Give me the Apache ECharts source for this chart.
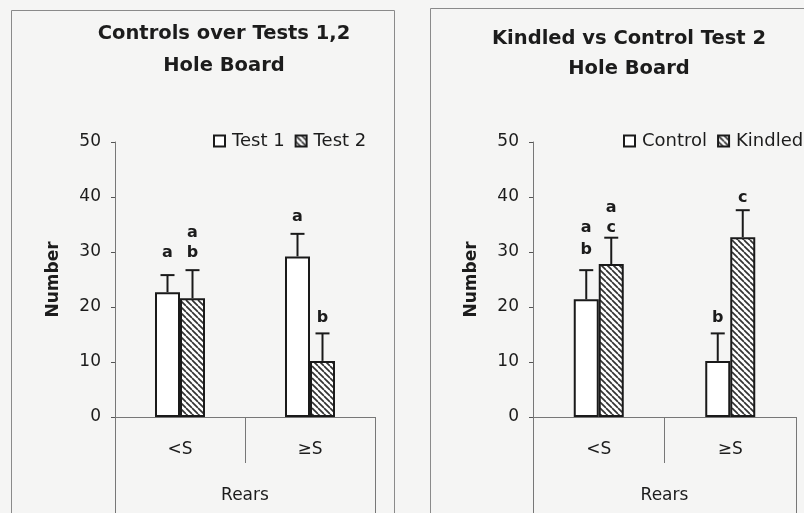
<!DOCTYPE html>
<html>
<head>
<meta charset="utf-8">
<script src="https://cdn.jsdelivr.net/npm/echarts@6/dist/echarts.min.js"></script>
<style>
  html, body { margin: 0; padding: 0; background: #f5f5f4; }
  #chart { width: 804px; height: 513px; }
</style>
</head>
<body>
<div id="chart"></div>
<script>
// ---- shared axes ----
const categories = ['<S', '≥S'];
const groupName = ['Rears'];
const yMin = 0, yMax = 50, yStep = 10;

// ---- left panel: controls, test 1 vs test 2 ----
const leftTitle = 'Controls over Tests 1,2\nHole Board';
const test1Mean = [22.7, 29.2];
const test1Err = [3.1, 4.1];
const test2Mean = [21.6, 10.2];
const test2Err = [5.1, 5.0];
const test1Letters = [['a'], ['a']];
const test1LetterY = [[29.8], [36.4]];
const test2Letters = [['b', 'a'], ['b']];
const test2LetterY = [[29.8, 33.5], [18.0]];

// ---- right panel: kindled vs control, test 2 ----
const rightTitle = 'Kindled vs Control Test 2\nHole Board';
const controlMean = [21.4, 10.2];
const controlErr = [5.3, 5.0];
const kindledMean = [27.8, 32.7];
const kindledErr = [4.8, 4.9];
const controlLetters = [['b', 'a'], ['b']];
const controlLetterY = [[30.4, 34.4], [18.0]];
const kindledLetters = [['c', 'a'], ['c']];
const kindledLetterY = [[34.4, 38.0], [39.8]];

const FONT = 'DejaVu Sans';
const INK = '#1c1c1c';
const AXIS = '#777';
const BAR_W = 25;

function hatchPattern() {
  const s = 6;
  const c = document.createElement('canvas');
  c.width = s; c.height = s;
  const g = c.getContext('2d');
  g.fillStyle = '#ffffff';
  g.fillRect(0, 0, s, s);
  g.strokeStyle = '#333';
  g.lineWidth = 1.7;
  for (const d of [-s, 0, s]) {
    g.beginPath();
    g.moveTo(d, 0);
    g.lineTo(d + s, s);
    g.stroke();
  }
  return { image: c, repeat: 'repeat' };
}
const HATCH = hatchPattern();

function barSeries(name, values, xi, yi, hatched) {
  return {
    name: name,
    type: 'bar',
    xAxisIndex: xi,
    yAxisIndex: yi,
    barWidth: BAR_W,
    barGap: '0%',
    data: values,
    itemStyle: {
      color: hatched ? HATCH : '#ffffff',
      borderColor: '#1a1a1a',
      borderWidth: 2
    },
    emphasis: { disabled: true },
    z: 2
  };
}

function errorSeries(values, errs, xi, yi, offset) {
  return {
    type: 'custom',
    xAxisIndex: xi,
    yAxisIndex: yi,
    silent: true,
    z: 3,
    data: values.map((v, i) => [i, v, errs[i]]),
    renderItem: function (params, api) {
      const base = api.coord([api.value(0), api.value(1)]);
      const top = api.coord([api.value(0), api.value(1) + api.value(2)]);
      const cx = base[0] + offset;
      const st = { stroke: '#1a1a1a', lineWidth: 2 };
      return {
        type: 'group',
        children: [
          { type: 'line', shape: { x1: cx, y1: base[1], x2: cx, y2: top[1] }, style: st },
          { type: 'line', shape: { x1: cx - 7, y1: top[1], x2: cx + 7, y2: top[1] }, style: st }
        ]
      };
    }
  };
}

function letterSeries(letters, letterY, xi, yi, offset) {
  const pts = [];
  const txt = [];
  letters.forEach((list, i) => {
    list.forEach((t, k) => {
      pts.push([i, letterY[i][k]]);
      txt.push(t);
    });
  });
  return {
    type: 'custom',
    xAxisIndex: xi,
    yAxisIndex: yi,
    silent: true,
    z: 4,
    data: pts,
    renderItem: function (params, api) {
      const p = api.coord([api.value(0), api.value(1)]);
      return {
        type: 'text',
        style: {
          x: p[0] + offset,
          y: p[1],
          text: txt[params.dataIndex],
          fill: INK,
          font: 'bold 16px "' + FONT + '"',
          align: 'center',
          verticalAlign: 'middle'
        }
      };
    }
  };
}

function catAxis(gi) {
  return {
    type: 'category',
    gridIndex: gi,
    position: 'bottom',
    data: categories,
    axisLine: { show: true, lineStyle: { color: AXIS, width: 1 } },
    axisTick: { show: true, interval: 0, alignWithLabel: false, length: 46, lineStyle: { color: AXIS, width: 1 } },
    axisLabel: { margin: 24, color: INK, fontFamily: FONT, fontSize: 17 }
  };
}
function groupAxis(gi) {
  return {
    type: 'category',
    gridIndex: gi,
    position: 'bottom',
    offset: 0,
    data: groupName,
    axisLine: { show: false },
    axisTick: { show: true, interval: 0, alignWithLabel: false, length: 100, lineStyle: { color: AXIS, width: 1 } },
    axisLabel: { margin: 70, color: INK, fontFamily: FONT, fontSize: 17 }
  };
}
function valAxis(gi) {
  return {
    type: 'value',
    gridIndex: gi,
    min: yMin,
    max: yMax,
    interval: yStep,
    name: 'Number',
    nameLocation: 'middle',
    nameGap: 53,
    nameTextStyle: { color: INK, fontFamily: FONT, fontSize: 17, fontWeight: 'bold' },
    axisLine: { show: true, lineStyle: { color: AXIS, width: 1 } },
    axisTick: { show: true, length: 4, lineStyle: { color: '#555' } },
    splitLine: { show: false },
    axisLabel: { margin: 14, color: INK, fontFamily: FONT, fontSize: 17 }
  };
}

const legendText = { color: INK, fontFamily: FONT, fontSize: 18, padding: [0, 0, 0, 2] };

const chart = echarts.init(document.getElementById('chart'));
chart.setOption({
  backgroundColor: '#f5f5f4',
  animation: false,
  title: [
    {
      text: leftTitle, left: 219, top: 13, textAlign: 'center',
      textStyle: { color: INK, fontFamily: FONT, fontSize: 19.5, fontWeight: 'bold', lineHeight: 32 }
    },
    {
      text: rightTitle, left: 624, top: 19, textAlign: 'center',
      textStyle: { color: INK, fontFamily: FONT, fontSize: 19.5, fontWeight: 'bold', lineHeight: 30 }
    }
  ],
  legend: [
    {
      data: ['Test 1', 'Test 2'], left: 208, top: 127, orient: 'horizontal', width: 320,
      icon: 'rect', itemWidth: 11, itemHeight: 11, itemGap: 10,
      textStyle: legendText
    },
    {
      data: ['Control', 'Kindled'], left: 618, top: 127, orient: 'horizontal', width: 320,
      icon: 'rect', itemWidth: 11, itemHeight: 11, itemGap: 10,
      textStyle: legendText
    }
  ],
  graphic: [
    { type: 'rect', z: -1, silent: true, shape: { x: 11.5, y: 10.5, width: 383, height: 600 }, style: { fill: 'none', stroke: '#8a8a8a', lineWidth: 1 } },
    { type: 'rect', z: -1, silent: true, shape: { x: 430.5, y: 8.5, width: 500, height: 600 }, style: { fill: 'none', stroke: '#8a8a8a', lineWidth: 1 } }
  ],
  grid: [
    { left: 115, top: 142, width: 260, height: 275 },
    { left: 533, top: 142, width: 263, height: 275 }
  ],
  xAxis: [catAxis(0), groupAxis(0), catAxis(1), groupAxis(1)],
  yAxis: [valAxis(0), valAxis(1)],
  series: [
    barSeries('Test 1', test1Mean, 0, 0, false),
    barSeries('Test 2', test2Mean, 0, 0, true),
    errorSeries(test1Mean, test1Err, 0, 0, -BAR_W / 2),
    errorSeries(test2Mean, test2Err, 0, 0, BAR_W / 2),
    letterSeries(test1Letters, test1LetterY, 0, 0, -BAR_W / 2),
    letterSeries(test2Letters, test2LetterY, 0, 0, BAR_W / 2),

    barSeries('Control', controlMean, 2, 1, false),
    barSeries('Kindled', kindledMean, 2, 1, true),
    errorSeries(controlMean, controlErr, 2, 1, -BAR_W / 2),
    errorSeries(kindledMean, kindledErr, 2, 1, BAR_W / 2),
    letterSeries(controlLetters, controlLetterY, 2, 1, -BAR_W / 2),
    letterSeries(kindledLetters, kindledLetterY, 2, 1, BAR_W / 2)
  ]
});
</script>
</body>
</html>
